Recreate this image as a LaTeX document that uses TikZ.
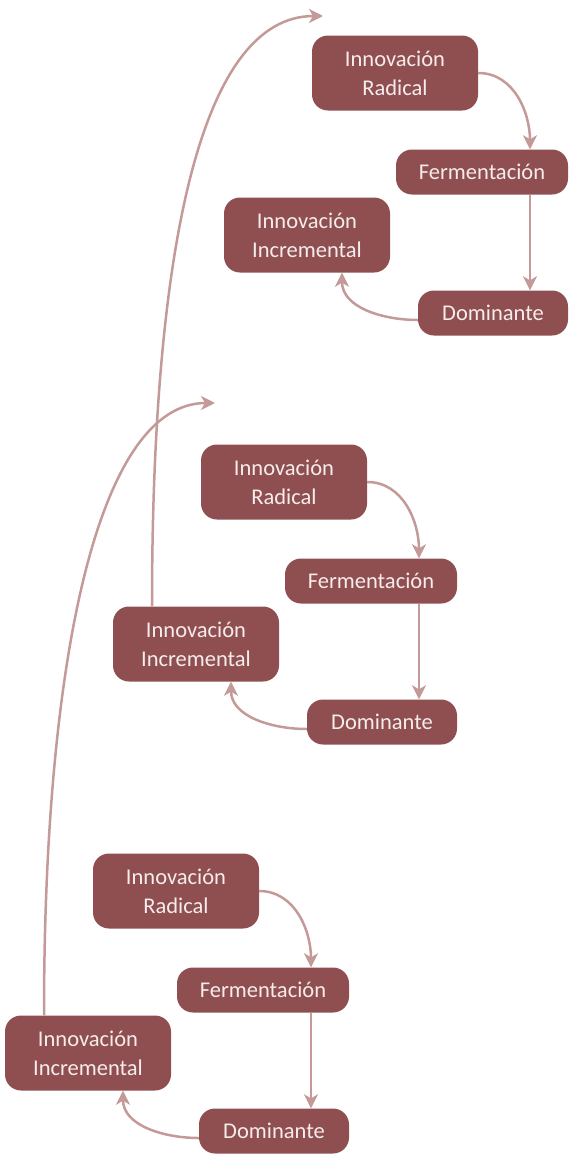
\documentclass[tikz,border=0pt]{standalone}
\usepackage{fontspec}
\setmainfont{Carlito}
\usetikzlibrary{arrows.meta}
\definecolor{ziegel}{RGB}{143,79,81}
\definecolor{rosa}{RGB}{196,154,152}
\definecolor{hell}{RGB}{246,236,236}

\begin{document}
\begin{tikzpicture} [ x=1pt, y=1pt
								, phase/.style={rectangle, rounded corners=16pt, fill=ziegel, text=hell, align=center, inner sep=0pt, font=\fontsize{22.5}{29}\selectfont}
								, zweizeilig/.style={phase, minimum width=166pt, minimum height=75pt}
								, breit/.style={phase, minimum width=172pt, minimum height=45pt}
								, schmal/.style={phase, minimum width=150pt, minimum height=45pt}
								, pfeil/.style={draw=rosa, line width=2.5pt, arrows={-Stealth[length=14pt, width=14pt, inset=4pt]}}
								]
	\useasboundingbox (0,0) rectangle (569,-1159);

	% oben
	\node (Radical1) 		[zweizeilig] at (395,-73) {Innovación\\Radical};
	\node (Fermentacion1) 	[breit] at ([shift={(87,-99)}]Radical1.center) {Fermentación};
	\node (Incremental1) 	[zweizeilig] at ([shift={(-88,-162)}]Radical1.center) {Innovación\\Incremental};
	\node (Dominante1) 		[schmal] at ([shift={(98,-240)}]Radical1.center) {Dominante};
	\coordinate (Ziel1) at (323,-16);

	% mitte
	\node (Radical2) 		[zweizeilig] at (284,-482) {Innovación\\Radical};
	\node (Fermentacion2) 	[breit] at ([shift={(87,-99)}]Radical2.center) {Fermentación};
	\node (Incremental2) 	[zweizeilig] at ([shift={(-88,-162)}]Radical2.center) {Innovación\\Incremental};
	\node (Dominante2) 		[schmal] at ([shift={(98,-240)}]Radical2.center) {Dominante};
	\coordinate (Ziel2) at (215,-403);

	% unten
	\node (Radical3) 		[zweizeilig] at (176,-891) {Innovación\\Radical};
	\node (Fermentacion3) 	[breit] at ([shift={(87,-99)}]Radical3.center) {Fermentación};
	\node (Incremental3) 	[zweizeilig] at ([shift={(-88,-162)}]Radical3.center) {Innovación\\Incremental};
	\node (Dominante3) 		[schmal] at ([shift={(98,-240)}]Radical3.center) {Dominante};

	\draw [pfeil] (Radical1.east) to[out=0, in=90] ([xshift=48pt]Fermentacion1.north);
	\draw [pfeil] ([xshift=48pt]Fermentacion1.south) -- ([xshift=48pt]Fermentacion1.south |- Dominante1.north);
	\draw [pfeil] ([yshift=-7pt]Dominante1.west) to[out=180, in=-90] ([xshift=35pt]Incremental1.south);

	\draw [pfeil] (Radical2.east) to[out=0, in=90] ([xshift=48pt]Fermentacion2.north);
	\draw [pfeil] ([xshift=48pt]Fermentacion2.south) -- ([xshift=48pt]Fermentacion2.south |- Dominante2.north);
	\draw [pfeil] ([yshift=-7pt]Dominante2.west) to[out=180, in=-90] ([xshift=35pt]Incremental2.south);

	\draw [pfeil] (Radical3.east) to[out=0, in=90] ([xshift=48pt]Fermentacion3.north);
	\draw [pfeil] ([xshift=48pt]Fermentacion3.south) -- ([xshift=48pt]Fermentacion3.south |- Dominante3.north);
	\draw [pfeil] ([yshift=-7pt]Dominante3.west) to[out=180, in=-90] ([xshift=35pt]Incremental3.south);

	\draw [pfeil] ([xshift=-44pt]Incremental2.north) .. controls +(0,356) and +(-123,0) .. (Ziel1);
	\draw [pfeil] ([xshift=-44pt]Incremental3.north) .. controls +(0,365) and +(-115,0) .. (Ziel2);

\end{tikzpicture}
\end{document}
